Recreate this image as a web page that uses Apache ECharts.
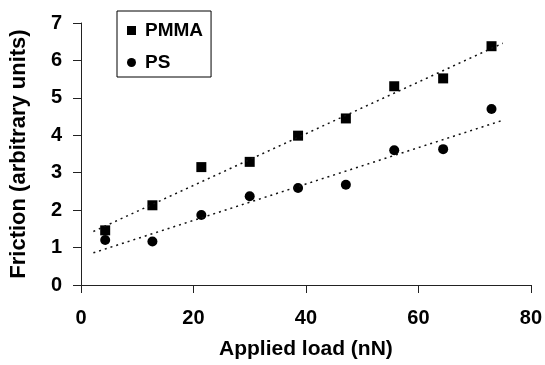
<!DOCTYPE html>
<html>
<head>
<meta charset="utf-8">
<script src="https://cdn.jsdelivr.net/npm/echarts@6/dist/echarts.min.js"></script>
<style>
  html, body { margin: 0; padding: 0; background: #fff; }
  #main { width: 545px; height: 365px; }
</style>
</head>
<body>
<div id="main"></div>
<script>
// applied load (nN) for each measurement
const loads = [4.3, 12.7, 21.4, 30.0, 38.6, 47.1, 55.7, 64.4, 73.0];
// friction readings
const pmma = [1.46, 2.13, 3.15, 3.29, 3.99, 4.45, 5.31, 5.52, 6.38];
const ps = [1.20, 1.16, 1.87, 2.37, 2.59, 2.68, 3.60, 3.63, 4.70];
// linear fit end points [load, friction]
const pmmaFit = [[2.2, 1.43], [75, 6.46]];
const psFit = [[2.2, 0.86], [75, 4.40]];
const xTicks = [0, 20, 40, 60, 80];
const yTicks = [0, 1, 2, 3, 4, 5, 6, 7];

const font = "'Liberation Sans', Arial, sans-serif";
const myChart = echarts.init(document.getElementById('main'));

const pair = (xs, ys) => xs.map((x, i) => [x, ys[i]]);

const axisCommon = {
    splitLine: { show: false },
    axisLine: { lineStyle: { color: '#222', width: 1 } },
    axisTick: { length: 8, lineStyle: { color: '#222' } },
    nameLocation: 'middle'
};

const option = {
    animation: false,
    backgroundColor: '#fff',
    grid: { left: 81, right: 13, top: 23, bottom: 78 },
    legend: {
        orient: 'vertical',
        left: 117,
        top: 11,
        padding: [10, 8, 5, 10],
        itemGap: 13,
        itemWidth: 9,
        itemHeight: 9,
        borderColor: '#000',
        borderWidth: 1,
        data: ['PMMA', 'PS'],
        textStyle: { fontFamily: font, fontWeight: 'bold', fontSize: 19, color: '#000', padding: [0, 0, 0, 4] }
    },
    xAxis: Object.assign({}, axisCommon, {
        type: 'value',
        min: xTicks[0],
        max: xTicks[xTicks.length - 1],
        interval: 20,
        name: 'Applied load (nN)',
        nameGap: 54,
        nameTextStyle: { fontFamily: font, fontWeight: 'bold', fontSize: 21, color: '#000' },
        axisLabel: { margin: 23, fontFamily: font, fontWeight: 'bold', fontSize: 20, color: '#000' }
    }),
    yAxis: Object.assign({}, axisCommon, {
        type: 'value',
        min: yTicks[0],
        max: yTicks[yTicks.length - 1],
        interval: 1,
        name: 'Friction (arbitrary units)',
        nameGap: 51,
        nameTextStyle: { fontFamily: font, fontWeight: 'bold', fontSize: 22, color: '#000' },
        axisLabel: { margin: 19, fontFamily: font, fontWeight: 'bold', fontSize: 20, color: '#000' }
    }),
    series: [
        {
            name: 'PMMA fit',
            type: 'line',
            data: pmmaFit,
            symbol: 'none',
            silent: true,
            lineStyle: { color: '#111', width: 1.5, type: [2, 4] }
        },
        {
            name: 'PS fit',
            type: 'line',
            data: psFit,
            symbol: 'none',
            silent: true,
            lineStyle: { color: '#111', width: 1.5, type: [2, 4] }
        },
        {
            name: 'PMMA',
            type: 'scatter',
            symbol: 'rect',
            symbolSize: 10,
            itemStyle: { color: '#000', opacity: 1 },
            data: pair(loads, pmma)
        },
        {
            name: 'PS',
            type: 'scatter',
            symbol: 'circle',
            symbolSize: 10,
            itemStyle: { color: '#000', opacity: 1 },
            data: pair(loads, ps)
        }
    ]
};

myChart.setOption(option);
</script>
</body>
</html>
